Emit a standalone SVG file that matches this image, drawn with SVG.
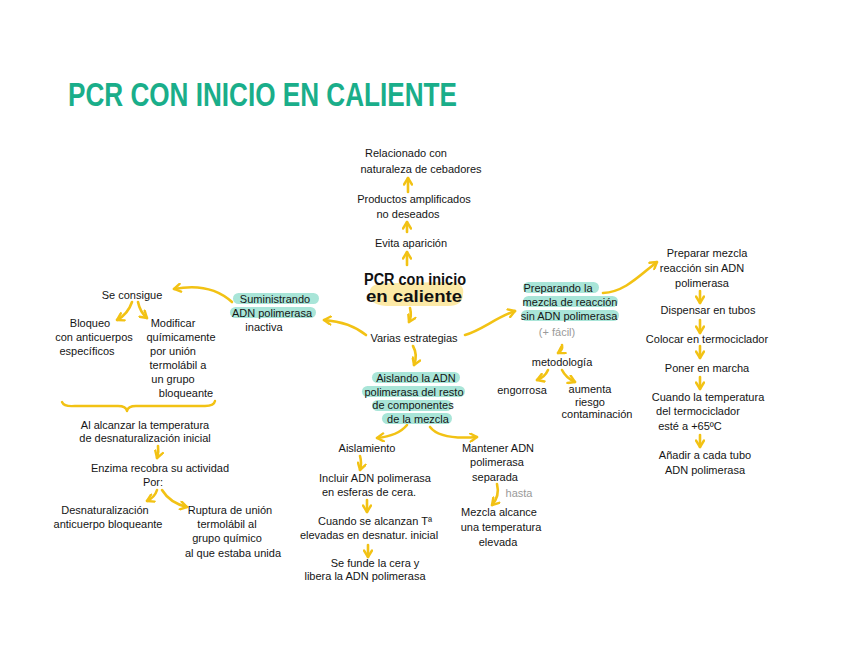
<svg xmlns="http://www.w3.org/2000/svg" width="848" height="666" viewBox="0 0 848 666">
<defs>
<marker id="ah" viewBox="0 0 10 10" refX="8" refY="5" markerWidth="10" markerHeight="10" markerUnits="userSpaceOnUse" orient="auto">
<path d="M1.5,1 L8,5 L1.5,9" fill="none" stroke="#f2c214" stroke-width="2.4" stroke-linecap="round" stroke-linejoin="round"/>
</marker>
<style>
.t{font-family:"Liberation Sans",Arial,sans-serif;font-size:11px;fill:#151515;text-anchor:middle}
.g{font-family:"Liberation Sans",Arial,sans-serif;font-size:11px;fill:#9a9a9a;text-anchor:middle}
.m{font-family:"Liberation Sans",Arial,sans-serif;font-size:16px;font-weight:bold;fill:#111;text-anchor:middle}
.c{fill:none;stroke:#f2c214;stroke-width:2.6;stroke-linecap:round;marker-end:url(#ah)}
.b{fill:none;stroke:#f2c214;stroke-width:2.4;stroke-linecap:round;stroke-linejoin:round}
.hl{fill:#a9e5d8}
.hy{fill:#fce9a6}
</style>
</defs>
<rect width="848" height="666" fill="#ffffff"/>
<text x="68" y="106" font-family="'Liberation Sans',Arial,sans-serif" font-weight="bold" font-size="34" fill="#1aae8a" textLength="389" lengthAdjust="spacingAndGlyphs">PCR CON INICIO EN CALIENTE</text>

<g id="connectors">
<path class="c" d="M408,192 L408,178"/>
<path class="c" d="M407,232 L407,222"/>
<path class="c" d="M407,265 L407,252"/>
<path class="c" d="M410,308 Q412,316 409,322"/>
<path class="c" d="M366,335 Q350,322 324,320"/>
<path class="c" d="M465,335 C482,330 495,318 515,311"/>
<path class="c" d="M413,346 Q418,355 414,365"/>
<path class="c" d="M407,425 Q398,436 377,438"/>
<path class="c" d="M430,427 Q440,440 477,437"/>
<path class="c" d="M360,456 Q362,463 360,470"/>
<path class="c" d="M367,500 L367,512"/>
<path class="c" d="M368,545 L368,557"/>
<path class="c" d="M497,484 Q500,496 492,505"/>
<path class="c" d="M232,302 Q210,282 174,289"/>
<path class="c" d="M132,302 Q128,314 117,320"/>
<path class="c" d="M138,302 Q140,312 147,318"/>
<path class="b" d="M62,402 Q64,407 75,406 L118,406 Q126,406 127,411 Q128,406 136,406 L205,406 Q214,406 215,401"/>
<path class="c" d="M158,446 Q159,452 157,458"/>
<path class="c" d="M157,490 Q155,497 147,501"/>
<path class="c" d="M162,490 Q170,503 187,507"/>
<path class="c" d="M562,345 Q563,350 558,353"/>
<path class="c" d="M548,370 Q545,377 537,380"/>
<path class="c" d="M562,370 Q566,378 575,382"/>
<path class="c" d="M603,293 C625,292 640,275 657,262"/>
<path class="c" d="M700,291 L700,303"/>
<path class="c" d="M700,320 L700,333"/>
<path class="c" d="M700,346 L700,358"/>
<path class="c" d="M700,377 L700,389"/>
<path class="c" d="M700,435 L700,447"/>
</g>

<g id="n-relacionado"><text class="t" x="406" y="157">Relacionado con</text><text class="t" x="421" y="173">naturaleza de cebadores</text></g>
<g id="n-productos"><text class="t" x="414" y="203">Productos amplificados</text><text class="t" x="408" y="218">no deseados</text></g>
<g id="n-evita"><text class="t" x="411" y="247">Evita aparición</text></g>
<g id="n-pcr">
<path class="hy" d="M370,290 Q372,282 392,283 L452,282 Q465,284 463,294 Q463,306 448,306 L386,306 Q369,305 370,293 Z"/>
<text class="m" x="415" y="285" textLength="102" lengthAdjust="spacingAndGlyphs">PCR con inicio</text>
<text class="m" x="414" y="302" textLength="96" lengthAdjust="spacingAndGlyphs">en caliente</text>
</g>
<g id="n-varias"><text class="t" x="414" y="342">Varias estrategias</text></g>

<g id="n-suministrando">
<rect class="hl" x="233" y="293" width="86" height="11" rx="5.5"/>
<rect class="hl" x="230" y="307" width="86" height="11" rx="5.5"/>
<text class="t" x="275" y="303">Suministrando</text>
<text class="t" x="272" y="317">ADN polimerasa</text>
<text class="t" x="264" y="331">inactiva</text>
</g>
<g id="n-seconsigue"><text class="t" x="132" y="299">Se consigue</text></g>
<g id="n-bloqueo"><text class="t" x="90" y="327">Bloqueo</text><text class="t" x="94" y="341">con anticuerpos</text><text class="t" x="87" y="355">específicos</text></g>
<g id="n-modificar"><text class="t" x="173" y="327">Modificar</text><text class="t" x="181" y="341">químicamente</text><text class="t" x="173" y="355">por unión</text><text class="t" x="178" y="369">termolábil a</text><text class="t" x="173" y="383">un grupo</text><text class="t" x="186" y="397">bloqueante</text></g>
<g id="n-alcanzar"><text class="t" x="145" y="429">Al alcanzar la temperatura</text><text class="t" x="145" y="442">de desnaturalización inicial</text></g>
<g id="n-enzima"><text class="t" x="160" y="472">Enzima recobra su actividad</text><text class="t" x="153" y="486">Por:</text></g>
<g id="n-desnat"><text class="t" x="105" y="514">Desnaturalización</text><text class="t" x="108" y="528">anticuerpo bloqueante</text></g>
<g id="n-ruptura"><text class="t" x="230" y="514">Ruptura de unión</text><text class="t" x="227" y="528">termolábil al</text><text class="t" x="227" y="542">grupo químico</text><text class="t" x="233" y="557">al que estaba unida</text></g>

<g id="n-aislando">
<rect class="hl" x="372" y="372" width="88" height="11" rx="5.5"/>
<rect class="hl" x="362" y="386" width="103" height="11" rx="5.5"/>
<rect class="hl" x="372" y="400" width="80" height="11" rx="5.5"/>
<rect class="hl" x="382" y="413" width="70" height="11" rx="5.5"/>
<text class="t" x="416" y="382">Aislando la ADN</text>
<text class="t" x="414" y="396">polimerasa del resto</text>
<text class="t" x="413" y="409">de componentes</text>
<text class="t" x="418" y="423">de la mezcla</text>
</g>
<g id="n-aislamiento"><text class="t" x="367" y="452">Aislamiento</text></g>
<g id="n-incluir"><text class="t" x="375" y="482">Incluir ADN polimerasa</text><text class="t" x="369" y="496">en esferas de cera.</text></g>
<g id="n-cuando"><text class="t" x="375" y="525">Cuando se alcanzan Tª</text><text class="t" x="369" y="539">elevadas en desnatur. inicial</text></g>
<g id="n-funde"><text class="t" x="375" y="567">Se funde la cera y</text><text class="t" x="365" y="580">libera la ADN polimerasa</text></g>
<g id="n-mantener"><text class="t" x="498" y="452">Mantener ADN</text><text class="t" x="497" y="466">polimerasa</text><text class="t" x="495" y="481">separada</text><text class="g" x="519" y="497">hasta</text></g>
<g id="n-mezcla"><text class="t" x="499" y="516">Mezcla alcance</text><text class="t" x="501" y="531">una temperatura</text><text class="t" x="498" y="546">elevada</text></g>

<g id="n-preparando">
<rect class="hl" x="523" y="282" width="76" height="11" rx="5.5"/>
<rect class="hl" x="523" y="296" width="95" height="11" rx="5.5"/>
<rect class="hl" x="521" y="310" width="98" height="11" rx="5.5"/>
<text class="t" x="558" y="292">Preparando la</text>
<text class="t" x="570" y="306">mezcla de reacción</text>
<text class="t" x="569" y="320">sin ADN polimerasa</text>
<text class="g" x="557" y="336">(+ fácil)</text>
</g>
<g id="n-metodologia"><text class="t" x="562" y="366">metodología</text></g>
<g id="n-engorrosa"><text class="t" x="522" y="394">engorrosa</text></g>
<g id="n-aumenta"><text class="t" x="590" y="393">aumenta</text><text class="t" x="590" y="406">riesgo</text><text class="t" x="597" y="418">contaminación</text></g>

<g id="n-preparar"><text class="t" x="707" y="257">Preparar mezcla</text><text class="t" x="702" y="272">reacción sin ADN</text><text class="t" x="702" y="287">polimerasa</text></g>
<g id="n-dispensar"><text class="t" x="708" y="314">Dispensar en tubos</text></g>
<g id="n-colocar"><text class="t" x="707" y="343">Colocar en termociclador</text></g>
<g id="n-poner"><text class="t" x="707" y="372">Poner en marcha</text></g>
<g id="n-cuando2"><text class="t" x="708" y="401">Cuando la temperatura</text><text class="t" x="698" y="415">del termociclador</text><text class="t" x="690" y="430">esté a +65ºC</text></g>
<g id="n-anadir"><text class="t" x="705" y="459">Añadir a cada tubo</text><text class="t" x="705" y="474">ADN polimerasa</text></g>
</svg>
